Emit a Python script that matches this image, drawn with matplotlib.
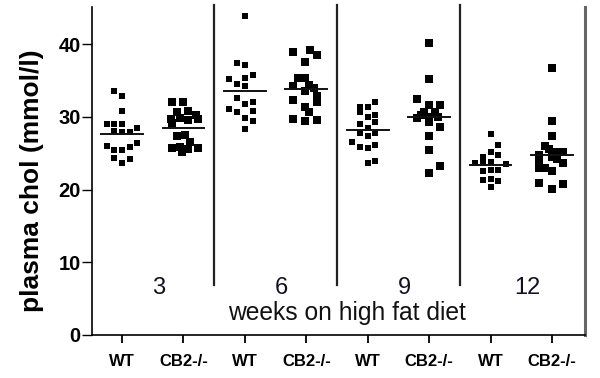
import matplotlib
matplotlib.use("Agg")
import matplotlib.pyplot as plt
import numpy as np

plt.rcParams['font.family'] = ['Liberation Sans', 'DejaVu Sans']

# tick labels along the bottom, one per column of points
groups = ["WT", "CB2-/-", "WT", "CB2-/-", "WT", "CB2-/-", "WT", "CB2-/-"]
weeks = ["3", "6", "9", "12"]

# plasma cholesterol (mmol/l) per mouse, and sideways scatter offset (x units)
wt3 = [33.5, 32.8, 30.8, 29.0, 29.0, 29.0, 28.1, 27.9, 27.9, 28.4, 26.0, 25.5, 25.5, 25.8, 26.4, 24.4, 24.2, 23.6]
wt3_dx = [-0.125, 0, 0, -0.25, -0.125, 0, -0.125, 0, 0.125, 0.25, -0.25, -0.125, 0, 0.125, 0.25, -0.125, 0.125, 0]
cb3 = [32.0, 32.0, 30.7, 30.8, 30.3, 29.7, 29.8, 29.6, 29.7, 29.2, 27.4, 27.5, 26.6, 25.7, 25.8, 25.6, 25.7, 25.2]
cb3_dx = [-0.18, 0, -0.1, 0.07, 0.2, -0.2, -0.05, 0.08, 0.23, -0.18, -0.1, 0.03, 0.11, -0.18, -0.05, 0.07, 0.23, -0.02]

wt6 = [43.8, 37.4, 37.1, 35.2, 35.4, 35.7, 34.5, 34.2, 32.6, 31.7, 32.0, 31.1, 30.7, 30.8, 29.9, 29.4, 28.3]
wt6_dx = [0, -0.125, 0, -0.25, 0, 0.125, -0.125, 0, -0.125, 0, 0.125, -0.25, -0.125, 0.125, 0, 0.125, 0]
cb6 = [38.9, 39.2, 38.5, 37.6, 35.3, 35.4, 34.2, 34.4, 33.6, 33.9, 32.8, 32.1, 32.3, 31.4, 30.6, 29.7, 29.4, 29.6]
cb6_dx = [-0.21, 0.06, 0.18, -0.02, -0.13, -0.02, -0.21, 0.05, -0.02, 0.13, 0.18, 0.18, -0.21, -0.02, 0.05, -0.21, -0.02, 0.18]

wt9 = [32.0, 31.3, 31.3, 30.6, 30.3, 30.0, 29.3, 29.0, 28.5, 27.8, 27.8, 27.3, 26.6, 25.9, 25.7, 26.1, 23.6, 23.9]
wt9_dx = [0.125, -0.125, 0, -0.125, 0.125, 0, 0.125, -0.125, 0, -0.125, 0.125, 0, -0.25, -0.125, 0, 0.125, 0, 0.125]
cb9 = [40.2, 35.2, 32.4, 31.6, 31.6, 30.7, 30.7, 30.2, 29.8, 30.0, 30.0, 29.3, 28.6, 27.3, 25.5, 23.2, 22.3]
cb9_dx = [0, 0, -0.2, 0, 0.18, -0.09, 0.09, -0.13, -0.2, 0, 0.14, 0, 0.18, 0, 0, 0.18, 0]

wt12 = [27.7, 26.1, 25.1, 24.8, 24.5, 23.7, 23.8, 23.6, 23.5, 22.5, 22.7, 22.7, 21.3, 21.5, 21.2, 20.3]
wt12_dx = [0, 0.125, 0, 0.125, -0.125, -0.25, 0, -0.125, 0.25, -0.125, 0, 0.125, -0.125, 0, 0.125, 0]
cb12 = [36.7, 29.4, 27.3, 26.0, 25.2, 25.2, 25.6, 24.8, 24.5, 24.2, 23.8, 23.6, 23.0, 22.9, 22.5, 20.9, 20.1, 20.7]
cb12_dx = [0, 0, 0, -0.11, 0.08, 0.18, -0.05, -0.21, 0, 0.08, -0.21, 0.18, -0.11, -0.21, 0, -0.21, 0, 0.18]

series = [(wt3, wt3_dx), (cb3, cb3_dx), (wt6, wt6_dx), (cb6, cb6_dx),
          (wt9, wt9_dx), (cb9, cb9_dx), (wt12, wt12_dx), (cb12, cb12_dx)]

fig = plt.figure(figsize=(6, 3.78), dpi=100)
ax = fig.add_axes([0.1533, 0.1138, 0.8217, 0.8677])

for i, (vals, dx) in enumerate(series):
    x = i + 1
    ms = 3.8 if i % 2 == 0 else 5.8
    ax.plot(x + np.array(dx), vals, 's', color='black', ms=ms, mew=0, zorder=3)
    m = np.mean(vals)
    ax.plot([x - 0.34, x + 0.34], [m, m], color='#111111', lw=1.4, zorder=4)

# separators between time points
for xs in [2.5, 4.5, 6.5]:
    ax.plot([xs, xs], [6.9, 45.4], color='#222222', lw=1.6, clip_on=False, zorder=2)

for j, w in enumerate(weeks):
    ax.text(j * 2 + 1.6, 6.4, w, ha='center', va='center', fontsize=17, color='#111122')
ax.text(4.66, 3.0, "weeks on high fat diet", ha='center', va='center', fontsize=17.7, color='#111111')

ax.set_xlim(0.512, 8.537)
ax.set_ylim(0, 45.1)
ax.set_xticks(range(1, 9))
ax.set_xticklabels(groups, fontsize=12, fontweight='bold')
ax.set_yticks([0, 10, 20, 30, 40])
ax.set_yticklabels(["0", "10", "20", "30", "40"], fontsize=14.5, fontweight='bold')
ax.tick_params(axis='x', direction='out', length=6, width=1.3, pad=8)
ax.tick_params(axis='y', direction='out', length=7, width=1.0, pad=1)

ax.spines['top'].set_visible(False)
ax.spines['left'].set_linewidth(1.2)
ax.spines['bottom'].set_linewidth(1.2)
ax.spines['right'].set_color('#666666')
ax.spines['right'].set_linewidth(2.2)

fig.text(32 / 600, 1 - 181 / 378, "plasma chol (mmol/l)", rotation=90, ha='center', va='center',
         fontsize=19, fontweight='bold')

fig.savefig("out.png", dpi=100)
